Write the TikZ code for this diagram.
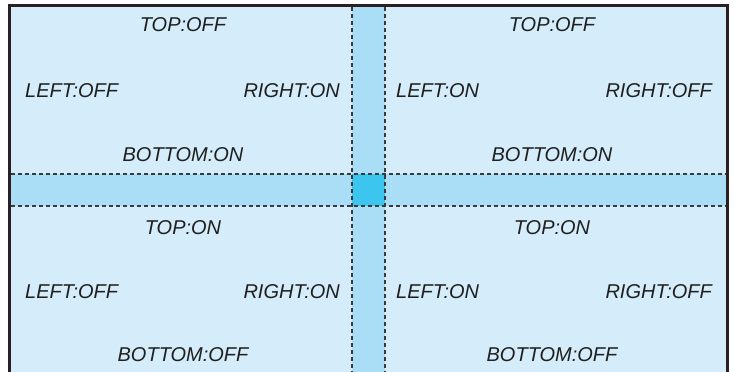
\documentclass[tikz,border=0pt]{standalone}
\usepackage{fontspec}
\setmainfont{Liberation Sans}
\definecolor{bgblue}{HTML}{D5EDFA}
\definecolor{stripblue}{HTML}{A9DEF6}
\definecolor{centerblue}{HTML}{3BC5EF}
\definecolor{framec}{HTML}{2A2023}
\definecolor{dashc}{HTML}{3A3A3A}
\begin{document}
\begin{tikzpicture}[x=1pt,y=-1pt,
  lbl/.style={inner sep=0pt,anchor=base,font=\fontsize{20}{22}\selectfont\itshape,text=black!88},
  lblL/.style={lbl,anchor=base west},
  lblR/.style={lbl,anchor=base east},
  guide/.style={dashc,line width=1.1pt,dash pattern=on 4pt off 3pt}]
\useasboundingbox (0,0) rectangle (734,372);
% background
\fill[bgblue] (11,7) rectangle (726,372);
% strips
\fill[stripblue] (352,7) rectangle (385,372);
\fill[stripblue] (11,174) rectangle (726,206);
\fill[centerblue] (352,174) rectangle (385,206);
% dashed guides
\coordinate (vlt) at (352,7); \coordinate (vlb) at (352,372);
\coordinate (vrt) at (385,7); \coordinate (vrb) at (385,372);
\coordinate (htl) at (11,174); \coordinate (htr) at (726,174);
\coordinate (hbl) at (11,206); \coordinate (hbr) at (726,206);
\draw[guide] (vlt) -- (vlb);
\draw[guide] (vrt) -- (vrb);
\draw[guide] (htl) -- (htr);
\draw[guide] (hbl) -- (hbr);
% frame
\draw[framec,line width=3pt] (9.5,380) -- (9.5,5.5) -- (727.5,5.5) -- (727.5,380);
% upper left
\node[lbl] (ul-top) at (183,31.5) {TOP:OFF};
\node[lblL] (ul-left) at (25,97) {LEFT:OFF};
\node[lblR] (ul-right) at (340,97) {RIGHT:ON};
\node[lbl] (ul-bottom) at (183,161) {BOTTOM:ON};
% upper right
\node[lbl] (ur-top) at (552,31.5) {TOP:OFF};
\node[lblL] (ur-left) at (396,97) {LEFT:ON};
\node[lblR] (ur-right) at (712,97) {RIGHT:OFF};
\node[lbl] (ur-bottom) at (552,161) {BOTTOM:ON};
% lower left
\node[lbl] (ll-top) at (183,234.5) {TOP:ON};
\node[lblL] (ll-left) at (25,298.5) {LEFT:OFF};
\node[lblR] (ll-right) at (340,298.5) {RIGHT:ON};
\node[lbl] (ll-bottom) at (183,361.5) {BOTTOM:OFF};
% lower right
\node[lbl] (lr-top) at (552,234.5) {TOP:ON};
\node[lblL] (lr-left) at (396,298.5) {LEFT:ON};
\node[lblR] (lr-right) at (712,298.5) {RIGHT:OFF};
\node[lbl] (lr-bottom) at (552,361.5) {BOTTOM:OFF};
\end{tikzpicture}
\end{document}
